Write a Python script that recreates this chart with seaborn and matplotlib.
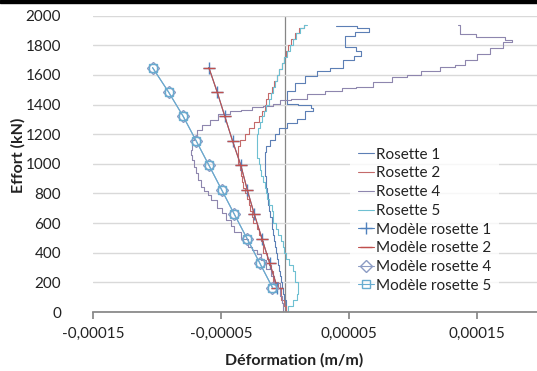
import numpy as np
import pandas as pd
import matplotlib
matplotlib.use("Agg")
import matplotlib.pyplot as plt
from matplotlib.patches import Rectangle
import seaborn as sns

# données (déformation en µm/m, effort en kN)
r1_y = [0, 40, 80, 120, 160, 200, 240, 280, 320, 360, 400, 440, 480, 520, 560, 600, 640, 680, 720, 760,
        800, 840, 880, 920, 960, 1000, 1040, 1080, 1120, 1160, 1200, 1240, 1273, 1306, 1360, 1380, 1394,
        1407, 1428, 1495, 1545, 1590, 1630, 1650, 1700, 1730, 1764, 1790, 1820, 1860, 1890, 1917, 1933]
r1_x = [0, 2, 0, -2, -1, -4, -3, -5, -4, -7, -6, -8, -7, -10, -9, -11, -10, -13, -12, -14,
        -13, -15, -14, -16, -15, -17, -15, -16, -13, -10, -6, -3, 6, 12, 19.5, 25, 16,
        4, -1, 4, 12, 20, 30, 40, 50, 58, 61, 50, 43, 50, 60, 72, 40]

r25_y = [0, 40, 80, 120, 160, 200, 240, 280, 320, 360, 400, 440, 480, 520, 560, 600, 640, 680, 720, 760,
         800, 840, 880, 920, 960, 1000, 1040, 1080, 1120, 1160, 1200, 1240, 1280, 1320, 1360, 1400, 1440,
         1480, 1520, 1560, 1600, 1640, 1680, 1720, 1760, 1800, 1840, 1880, 1920, 1935]
r2_x = [0, 1, -2, -4, -3, -8, -10, -9, -13, -12, -16, -18, -17, -21, -20, -24, -26, -25, -29, -28,
        -32, -31, -34, -33, -36, -35, -38, -36, -37, -33, -30, -26, -22, -19, -17, -14, -15,
        -11, -10, -7, -6, -3, -2, 1, 0, 4, 6, 9, 13, 16]
r5_x = [0, 5, 8, 10, 11, 9, 7, 8, 4, 2, 0, -2, -1, -5, -6, -8, -10, -9, -12, -13,
        -15, -14, -17, -18, -20, -19, -22, -21, -23, -21, -22, -20, -19, -17, -16, -13, -12,
        -10, -9, -7, -5, -4, -1, 0, 3, 5, 7, 10, 13, 17]

r4_y = [0, 60, 110, 193, 240, 290, 350, 390, 420, 440, 490, 541, 580, 620, 667, 700, 754, 790, 820, 844,
        890, 936, 980, 1024, 1060, 1091, 1120, 1158, 1190, 1226, 1259, 1293, 1338, 1360, 1365, 1382,
        1390, 1405, 1428, 1440, 1473, 1490, 1513, 1520, 1551, 1589, 1600, 1630, 1652, 1670, 1700,
        1744, 1780, 1820, 1836, 1854, 1877, 1921, 1939]
r4_x = [0, -3, -2, -6.5, -10, -12, -17, -20, -24, -27, -31, -38, -41, -44, -48, -51, -56, -59, -62, -64,
        -67, -69, -70, -72, -73, -74, -72, -73, -69, -69, -61, -56, -48, -38, -30, -22,
        -12, -6.5, -1, 10, 25, 38, 51, 60, 77, 90, 100, 113, 129, 137, 145,
        155, 165, 176, 178, 165, 134, 139, 135]

mod_y = [165, 330, 495, 660, 825, 990, 1155, 1320, 1485, 1650]
mod12_x = [-6, -12, -18, -24, -29.5, -34.5, -41, -47, -53, -59.5]
mod45_x = [-9.8, -19.7, -29.6, -39.6, -49.5, -59.4, -69.4, -79.5, -91, -103.5]

sns.set_theme(style="white")
plt.rcParams["font.family"] = ["Lato", "DejaVu Sans"]

W, H = 537, 371
fig = plt.figure(figsize=(W / 100, H / 100), dpi=100)
ax = fig.add_axes([93 / W, 1 - 312 / H, 1 - 93 / W, (312 - 15.7) / H])

um = 1e-6
series = [
    ("Rosette 1", r1_x, r1_y, "#5C7FB5"),
    ("Rosette 2", r2_x, r25_y, "#C46A6A"),
    ("Rosette 4", r4_x, r4_y, "#8E86AE"),
    ("Rosette 5", r5_x, r25_y, "#6FC0D2"),
]
for name, xs, ys, col in series:
    sns.lineplot(x=np.array(xs) * um, y=ys, sort=False, estimator=None, color=col,
                 linewidth=0.8, label=name, ax=ax)
    ax.lines[-1].set_drawstyle("steps-mid")

modeles = [
    ("Modèle rosette 1", mod12_x, "#4F81BD", "+", 8, "#4F81BD"),
    ("Modèle rosette 2", mod12_x, "#C0504D", "_", 8, "#C0504D"),
    ("Modèle rosette 4", mod45_x, "#8C9CC4", "D", 6.5, "none"),
    ("Modèle rosette 5", mod45_x, "#67ACD0", "s", 6, "none"),
]
for name, xs, col, mk, ms, fc in modeles:
    sns.lineplot(x=np.array(xs) * um, y=mod_y, sort=False, estimator=None, color=col,
                 linewidth=0.8, label=name, ax=ax)
    ln = ax.lines[-1]
    ln.set_linestyle("-")
    ln.set_marker(mk)
    ln.set_markersize(ms)
    ln.set_markeredgecolor(col)
    ln.set_markerfacecolor(fc)
    ln.set_markeredgewidth(1.0)

ax.set_xlim(-0.00015, (W - 285) / 1.28e6)
ax.set_ylim(0, 2000)
ax.set_xticks([-0.00015, -0.00005, 0.00005, 0.00015])
ax.set_xticklabels(["-0,00015", "-0,00005", "0,00005", "0,00015"])
ax.set_yticks(range(0, 2001, 200))
ax.yaxis.grid(True, color="#D9D9D9", linewidth=1)
ax.set_axisbelow(True)
for s in ["left", "right", "top"]:
    ax.spines[s].set_visible(False)
ax.spines["bottom"].set_color("#868686")
ax.axvline(0, color="#868686", linewidth=0.9, zorder=0.5)
ax.tick_params(axis="x", bottom=True, length=5, color="#868686", labelsize=11, pad=6,
               labelcolor="#222222")
ax.tick_params(axis="y", left=False, labelsize=11, pad=17, labelcolor="#222222")

ax.set_xlabel("Déformation (m/m)", fontsize=11.5, fontweight="bold", color="#222222")
ax.set_ylabel("Effort (kN)", fontsize=11.5, fontweight="bold", color="#222222")
ax.xaxis.set_label_coords((294 - 93) / (W - 93), -(353 - 312) / (312 - 15.7))
ax.yaxis.set_label_coords(-(93 - 26) / (W - 93), (312 - 155) / (312 - 15.7))

leg = ax.legend(loc="upper left", bbox_to_anchor=(350 / W, 1 - 140 / H),
                bbox_transform=fig.transFigure, frameon=True, fontsize=11,
                handlelength=1.1, handletextpad=0.1, labelspacing=0.31,
                borderpad=0.5, borderaxespad=0, fancybox=False)
leg.get_frame().set_facecolor("white")
leg.get_frame().set_edgecolor("none")
for t in leg.get_texts():
    t.set_color("#222222")

fig.patches.append(Rectangle((0, 1 - 3 / H), 1, 3 / H, transform=fig.transFigure,
                             color="black", zorder=10))

fig.savefig("out.png", dpi=100)
